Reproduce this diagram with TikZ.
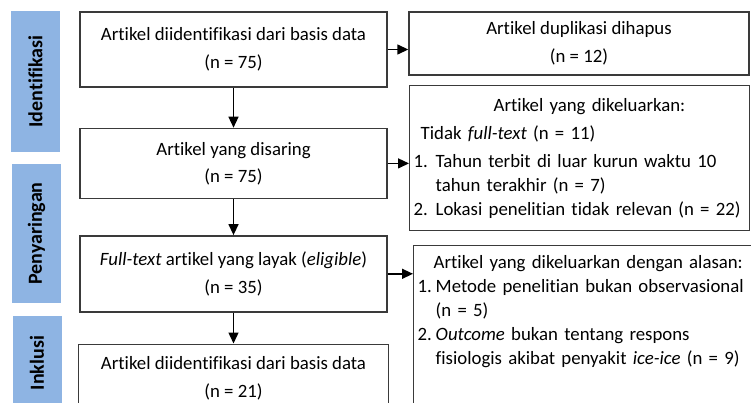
\documentclass[tikz,border=0pt]{standalone}
\usepackage{fontspec}
\setmainfont{Carlito}[Ligatures=NoCommon]
\usepackage{tikz}
\usetikzlibrary{arrows.meta,positioning}

\definecolor{stageblue}{HTML}{8EB4E3}
\definecolor{linegray}{HTML}{3A3A3A}

\begin{document}
\begin{tikzpicture}[x=1pt,y=-1pt,->,>={Triangle[length=11pt,width=10pt]},line width=1.4pt,
  stage/.style={fill=stageblue,rotate=90,minimum height=49pt,inner sep=0pt,font=\fontsize{20}{24}\selectfont\bfseries},
  box/.style={draw=linegray,minimum width=307pt,align=center,inner sep=0pt,font=\fontsize{18.8}{23}\selectfont},
  sidebox/.style={draw=linegray,anchor=north west,align=left,inner xsep=4pt,font=\fontsize{18.8}{24}\selectfont}]

\useasboundingbox (0,0) rectangle (751,403);

\node[stage, minimum width=141pt] (s1) at (35.5,81.5) {Identifikasi};
\node[stage, minimum width=139pt] (s2) at (36.5,233.5) {Penyaringan};
\node[stage, minimum width=94pt] (s3) at (37,363) {Inklusi};

\node[box, minimum height=75pt] (b1) at (233.5,49.5) {Artikel diidentifikasi dari basis data\\[5pt](n = 75)};
\node[box, minimum height=70pt] (b2) [below=40pt of b1] {Artikel yang disaring\\[4pt](n = 75)};
\node[box, minimum height=76pt] (b3) [below=36pt of b2] {\textit{Full-text} artikel yang layak (\textit{eligible})\\[5pt](n = 35)};
\node[box, minimum height=68pt, minimum width=310pt] (b4) [below=31pt of b3] {Artikel diidentifikasi dari basis data\\[5pt](n = 21)};

\node[box, minimum width=340pt, minimum height=63pt] (r1) at (579,43.5) {Artikel duplikasi dihapus\\[5pt](n = 12)};
\node[sidebox, text width=332pt, minimum height=145pt] (r2) at (409,85) {%
\hspace*{80pt}Artikel yang dikeluarkan:\\[4pt]
\hspace*{7pt}Tidak \textit{full-text} (n = 11)\\[4pt]
\makebox[22pt][l]{1.}Tahun terbit di luar kurun waktu 10\\
\hspace*{22pt}tahun terakhir (n = 7)\\
\makebox[22pt][l]{2.}Lokasi penelitian tidak relevan (n = 22)};
\node[sidebox, text width=340pt, inner ysep=10pt] (r3) at (413,245) {%
\hspace*{16pt}Artikel yang dikeluarkan dengan alasan:\\
\makebox[18pt][l]{1.}Metode penelitian bukan observasional\\
\hspace*{18pt}(n = 5)\\
\makebox[18pt][l]{2.}\textit{Outcome} bukan tentang respons\\
\hspace*{18pt}fisiologis akibat penyakit \textit{ice-ice} (n = 9)\rule[-60pt]{0pt}{0pt}};

\path
  (b1) edge (b2)
  (b2) edge (b3)
  (b3) edge (b4)
  (b1.east) edge (b1.east -| r1.west)
  (b2.east) edge (b2.east -| r2.west)
  (b3.east) edge (b3.east -| r3.west);

\end{tikzpicture}
\end{document}
